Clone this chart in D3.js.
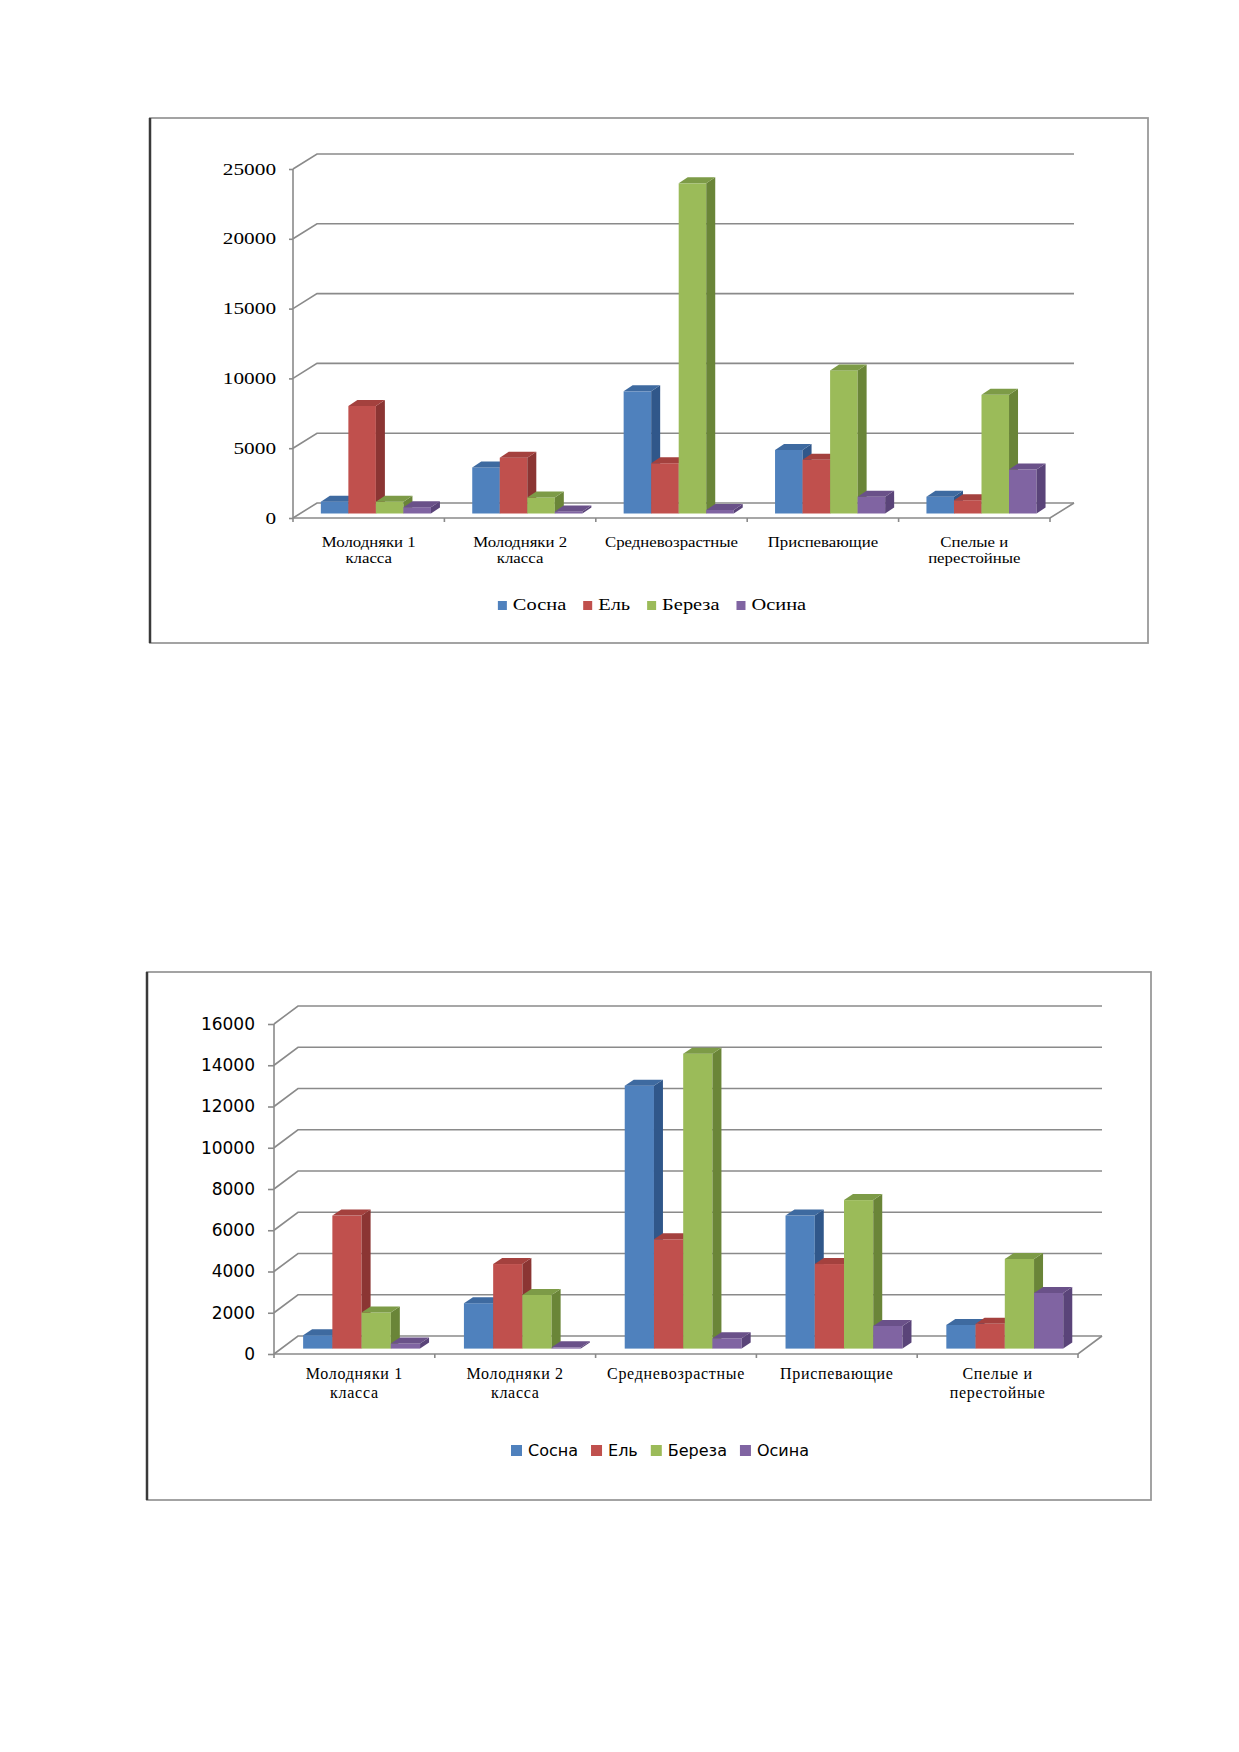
<!DOCTYPE html>
<html>
<head>
<meta charset="utf-8">
<script src="https://cdn.jsdelivr.net/npm/d3@7"></script>
<style>
body { margin: 0; background: #fff; }
</style>
</head>
<body>
<svg id="page" width="1239" height="1752"></svg>
<script>
// categories and series shared by both charts
const categoryLabels = [["Молодняки 1", "класса"], ["Молодняки 2", "класса"], ["Средневозрастные"], ["Приспевающие"], ["Спелые и", "перестойные"]]
const categories = categoryLabels.map(d => d.join(" "))
const seriesNames = ["Сосна", "Ель", "Береза", "Осина"]

// upper chart
const topSosna = [850, 3300, 8750, 4550, 1200]
const topEl = [7700, 4000, 3600, 3850, 950]
const topBereza = [850, 1150, 23650, 10250, 8500]
const topOsina = [450, 150, 250, 1200, 3150]
const topTicks = [0, 5000, 10000, 15000, 20000, 25000]

// lower chart
const bottomSosna = [650, 2200, 12750, 6450, 1150]
const bottomEl = [6450, 4100, 5300, 4100, 1200]
const bottomBereza = [1750, 2600, 14300, 7200, 4350]
const bottomOsina = [250, 60, 500, 1100, 2700]
const bottomTicks = [0, 2000, 4000, 6000, 8000, 10000, 12000, 14000, 16000]

const FRONT_COLORS = ["#4f81bd", "#c0504d", "#9bbb59", "#8064a2"]
const SIDE_COLORS = ["#30578a", "#8b3533", "#6a8538", "#5a4479"]
const TOP_COLORS = ["#3e6aa0", "#a4413e", "#7d9b47", "#6a5189"]
const GRID_COLOR = "#8a8a8a"

const SERIF = "'Liberation Serif', 'Times New Roman', serif"
const SANS = "'DejaVu Sans', Verdana, sans-serif"

let svg = d3.select("#page")
svg.append("rect").attr("width", 1239).attr("height", 1752).attr("fill", "#fff")

function drawChart(opt, values, ticks) {
    let g = svg.append("g")

    // frame, left edge is darker in the scan
    g.append("rect")
        .attr("x", opt.frame[0]).attr("y", opt.frame[1])
        .attr("width", opt.frame[2]).attr("height", opt.frame[3])
        .attr("fill", "none").attr("stroke", "#9a9a9a").attr("stroke-width", 1.8)
    g.append("line")
        .attr("x1", opt.frame[0]).attr("x2", opt.frame[0])
        .attr("y1", opt.frame[1]).attr("y2", opt.frame[1] + opt.frame[3])
        .attr("stroke", "#3a3a3a").attr("stroke-width", 2.5)

    let y = d3.scaleLinear().domain([0, d3.max(ticks)]).range([opt.y0, opt.yTop])
    let x = d3.scaleBand().domain(categories).range([opt.x0, opt.x1])
    let unit = x.bandwidth() / 5.5   // 4 bars + gap width 150%
    let xs = d3.scaleBand().domain(seriesNames).range([unit * 0.75, unit * 4.75])
    let dx = opt.depth[0], dy = opt.depth[1]

    // side wall diagonals + back wall gridlines
    ticks.forEach(function(t) {
        g.append("path")
            .attr("d", `M${opt.x0},${y(t)}L${opt.x0 + dx},${y(t) + dy}L${opt.x1 + dx},${y(t) + dy}`)
            .attr("fill", "none").attr("stroke", GRID_COLOR).attr("stroke-width", 1.6)
    })
    // floor front edge
    g.append("path")
        .attr("d", `M${opt.x0},${y(0)}L${opt.x1},${y(0)}L${opt.x1 + dx},${y(0) + dy}`)
        .attr("fill", "none").attr("stroke", GRID_COLOR).attr("stroke-width", 1.6)
    // vertical axis
    g.append("line")
        .attr("x1", opt.x0).attr("x2", opt.x0)
        .attr("y1", y(0)).attr("y2", y(d3.max(ticks)))
        .attr("stroke", GRID_COLOR).attr("stroke-width", 1.6)
    // category boundary ticks
    let bounds = categories.map(c => x(c)).concat([opt.x1])
    bounds.forEach(function(bx) {
        g.append("line")
            .attr("x1", bx).attr("x2", bx)
            .attr("y1", y(0)).attr("y2", y(0) + 4)
            .attr("stroke", GRID_COLOR).attr("stroke-width", 1.6)
    })

    // 3d columns
    let offX = dx * 0.3, offY = dy * 0.3
    let bd = opt.barDepth
    categories.forEach(function(c, i) {
        seriesNames.forEach(function(s, j) {
            let v = values[j][i]
            let left = x(c) + xs(s) + offX
            let w = xs.bandwidth()
            let top = y(v) + offY
            let base = y(0) + offY
            g.append("rect")
                .attr("x", left).attr("y", top)
                .attr("width", w).attr("height", base - top)
                .attr("fill", FRONT_COLORS[j])
            g.append("path")
                .attr("d", `M${left + w},${top}L${left + w + bd[0]},${top + bd[1]}L${left + w + bd[0]},${base + bd[1]}L${left + w},${base}Z`)
                .attr("fill", SIDE_COLORS[j])
            g.append("path")
                .attr("d", `M${left},${top}L${left + bd[0]},${top + bd[1]}L${left + w + bd[0]},${top + bd[1]}L${left + w},${top}Z`)
                .attr("fill", TOP_COLORS[j])
        })
    })

    // value axis
    let axis = g.append("g")
        .attr("transform", `translate(${opt.x0},0)`)
        .call(d3.axisLeft(y).tickValues(ticks).tickSize(opt.tickSize).tickPadding(opt.tickPad).tickFormat(d3.format("d")))
    axis.select(".domain").remove()
    axis.attr("font-family", opt.yFont).attr("font-size", opt.yFontSize)
    axis.selectAll("line").attr("stroke", GRID_COLOR).attr("stroke-width", 1.6)
    axis.selectAll("text").attr("fill", "#000")
    if (opt.yStretch != 1) {
        axis.selectAll("text")
            .attr("x", -(opt.tickSize + opt.tickPad) / opt.yStretch)
            .attr("transform", `scale(${opt.yStretch},1)`)
    }

    // category labels
    categories.forEach(function(c, i) {
        let lg = g.append("g")
            .attr("transform", `translate(${x(c) + x.bandwidth() / 2},${opt.labelY}) scale(${opt.labelStretch},1)`)
        let t = lg.append("text")
            .attr("text-anchor", "middle")
            .attr("font-family", SERIF).attr("font-size", opt.labelSize)
            .attr("letter-spacing", opt.labelSpacing)
            .attr("fill", "#000")
        categoryLabels[i].forEach(function(line, k) {
            t.append("tspan").attr("x", 0).attr("y", k * opt.labelLH).text(line)
        })
    })

    // legend
    let leg = g.append("g")
    let cur = 0
    seriesNames.forEach(function(s, j) {
        leg.append("rect")
            .attr("x", cur).attr("y", -opt.sq)
            .attr("width", opt.sq).attr("height", opt.sq)
            .attr("fill", FRONT_COLORS[j])
        cur += opt.sq + opt.sqGap
        let tg = leg.append("g").attr("transform", `translate(${cur},0) scale(${opt.legendStretch},1)`)
        let t = tg.append("text")
            .attr("font-family", opt.legendFont).attr("font-size", opt.legendSize)
            .attr("fill", "#000")
            .text(s)
        cur += t.node().getComputedTextLength() * opt.legendStretch + opt.itemGap
    })
    let total = cur - opt.itemGap
    leg.attr("transform", `translate(${opt.legendCx - total / 2},${opt.legendY})`)
}

drawChart({
    frame: [150, 118, 998, 525],
    x0: 293, x1: 1050, y0: 518, yTop: 169,
    depth: [24, -15], barDepth: [9, -6],
    tickSize: 4, tickPad: 13,
    yFont: SERIF, yFontSize: 16, yStretch: 1.33,
    labelY: 547, labelLH: 16, labelSize: 14, labelStretch: 1.2, labelSpacing: 0,
    legendY: 610, legendFont: SERIF, legendSize: 17, legendStretch: 1.2,
    sq: 9, sqGap: 6, itemGap: 17, legendCx: 652
}, [topSosna, topEl, topBereza, topOsina], topTicks)

drawChart({
    frame: [147, 972, 1004, 528],
    x0: 274, x1: 1078, y0: 1354, yTop: 1024,
    depth: [24, -18], barDepth: [9, -6],
    tickSize: 6, tickPad: 13,
    yFont: SANS, yFontSize: 17, yStretch: 1,
    labelY: 1379, labelLH: 18.5, labelSize: 16, labelStretch: 1, labelSpacing: 0.7,
    legendY: 1456, legendFont: SANS, legendSize: 16, legendStretch: 1,
    sq: 11, sqGap: 6, itemGap: 13, legendCx: 660
}, [bottomSosna, bottomEl, bottomBereza, bottomOsina], bottomTicks)
</script>
</body>
</html>
